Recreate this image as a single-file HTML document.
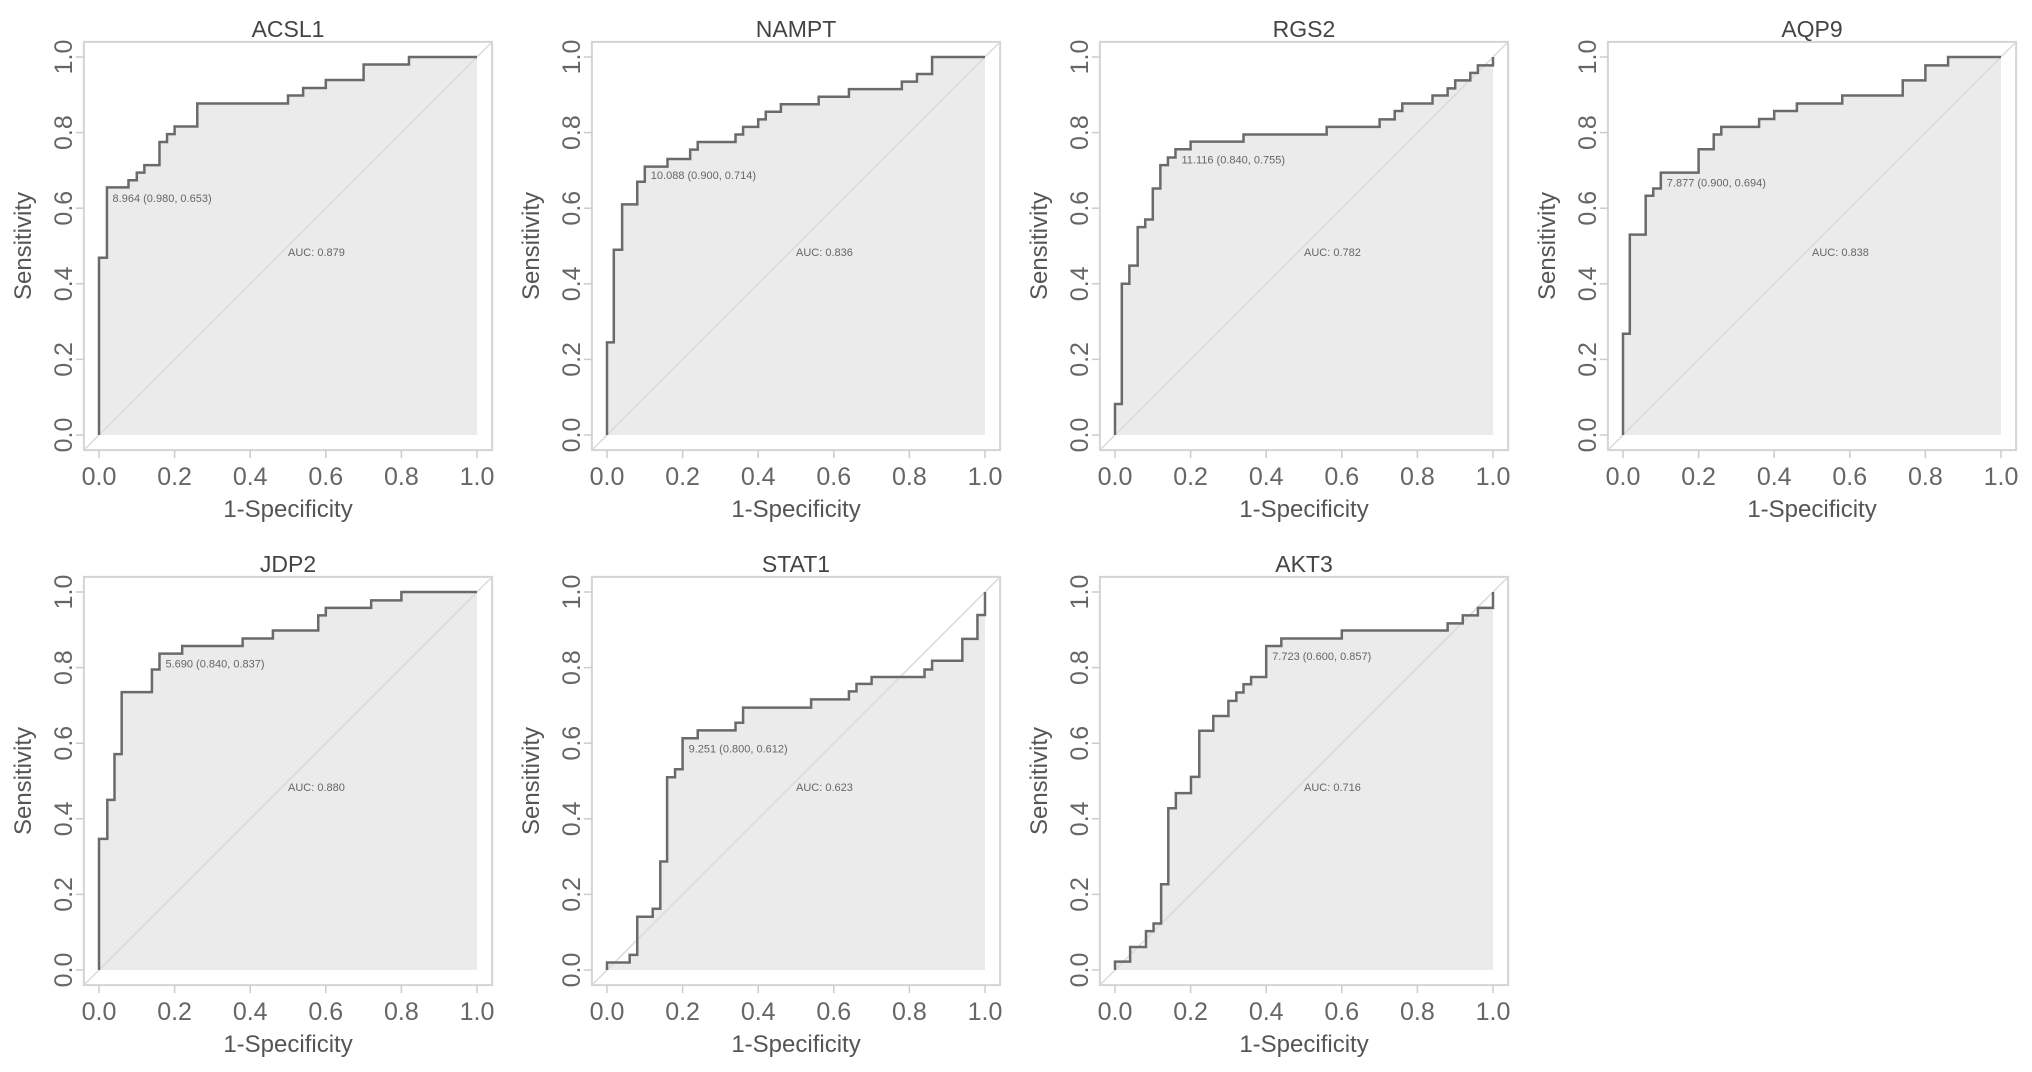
<!DOCTYPE html>
<html><head><meta charset="utf-8"><style>
html,body{margin:0;padding:0;background:#fff;}
svg{display:block;font-family:"Liberation Sans",Arial,sans-serif;}
</style></head><body>
<svg id="chart" width="2032" height="1072" viewBox="0 0 2032 1072"></svg>
<script>
const genes = ["ACSL1","NAMPT","RGS2","AQP9","JDP2","STAT1","AKT3"];
const aucs = ["0.879","0.836","0.782","0.838","0.880","0.623","0.716"];
const cutLabels = ["8.964 (0.980, 0.653)","10.088 (0.900, 0.714)","11.116 (0.840, 0.755)","7.877 (0.900, 0.694)","5.690 (0.840, 0.837)","9.251 (0.800, 0.612)","7.723 (0.600, 0.857)"];
const cutFpr = [0.02,0.10,0.16,0.10,0.16,0.20,0.40];
const cutTpr = [0.653,0.714,0.755,0.694,0.837,0.612,0.857];
const ticks = [0,0.2,0.4,0.6,0.8,1.0];
const tickLabels = ["0.0","0.2","0.4","0.6","0.8","1.0"];
const fprACSL1 = [0,0.021,0.078,0.10,0.12,0.16,0.18,0.20,0.26,0.50,0.54,0.60,0.70,0.82];
const tprACSL1 = [0.469,0.655,0.674,0.694,0.714,0.775,0.796,0.816,0.877,0.898,0.918,0.939,0.98,1.0];
const fprNAMPT = [0,0.018,0.04,0.08,0.10,0.16,0.22,0.24,0.34,0.36,0.40,0.42,0.46,0.56,0.64,0.78,0.82,0.86];
const tprNAMPT = [0.245,0.49,0.61,0.67,0.71,0.73,0.755,0.775,0.795,0.815,0.835,0.855,0.875,0.895,0.915,0.935,0.955,1.0];
const fprRGS2 = [0,0.018,0.038,0.06,0.08,0.10,0.12,0.14,0.16,0.20,0.34,0.56,0.70,0.74,0.76,0.84,0.88,0.90,0.94,0.96,1.0];
const tprRGS2 = [0.082,0.40,0.448,0.55,0.57,0.652,0.714,0.734,0.756,0.776,0.795,0.815,0.835,0.857,0.877,0.898,0.917,0.938,0.958,0.978,1.0];
const fprAQP9 = [0,0.018,0.06,0.08,0.10,0.20,0.24,0.26,0.36,0.40,0.46,0.58,0.74,0.80,0.86];
const tprAQP9 = [0.268,0.53,0.633,0.652,0.694,0.756,0.795,0.815,0.836,0.857,0.877,0.898,0.938,0.978,1.0];
const fprJDP2 = [0,0.022,0.041,0.06,0.14,0.16,0.22,0.38,0.46,0.58,0.60,0.72,0.80];
const tprJDP2 = [0.347,0.45,0.571,0.735,0.795,0.837,0.857,0.877,0.898,0.938,0.958,0.978,1.0];
const fprSTAT1 = [0,0.06,0.08,0.121,0.141,0.159,0.18,0.20,0.24,0.34,0.36,0.54,0.64,0.66,0.70,0.84,0.86,0.94,0.98,1.0];
const tprSTAT1 = [0.02,0.04,0.141,0.162,0.287,0.51,0.531,0.613,0.634,0.654,0.694,0.716,0.737,0.757,0.775,0.795,0.818,0.876,0.939,1.0];
const fprAKT3 = [0,0.04,0.082,0.102,0.122,0.141,0.161,0.201,0.223,0.26,0.30,0.321,0.34,0.36,0.40,0.44,0.60,0.88,0.92,0.96,1.0];
const tprAKT3 = [0.022,0.061,0.103,0.123,0.227,0.428,0.468,0.511,0.633,0.672,0.712,0.734,0.756,0.775,0.857,0.877,0.898,0.917,0.938,0.958,1.0];
const fprSets = [fprACSL1,fprNAMPT,fprRGS2,fprAQP9,fprJDP2,fprSTAT1,fprAKT3];
const tprSets = [tprACSL1,tprNAMPT,tprRGS2,tprAQP9,tprJDP2,tprSTAT1,tprAKT3];

const NS = "http://www.w3.org/2000/svg";
const svg = document.getElementById("chart");
function mk(tag, attrs, parent){
  const e = document.createElementNS(NS, tag);
  for (const k in attrs) e.setAttribute(k, attrs[k]);
  (parent||svg).appendChild(e);
  return e;
}
const W = 378, H = 378;
genes.forEach((g, i) => {
  const c = i % 4, r = Math.floor(i / 4);
  const X0 = 99 + 508 * c, Y0 = 435 + 535 * r;
  const sx = v => X0 + v * W;
  const sy = v => Y0 - v * H;
  const grp = mk("g", {});
  
  
  const fx = fprSets[i], ty = tprSets[i];
  let d = "M" + sx(0) + "," + sy(0);
  for (let k = 0; k < fx.length; k++) {
    d += " L" + sx(fx[k]) + "," + sy(k === 0 ? 0 : ty[k-1]);
    d += " L" + sx(fx[k]) + "," + sy(ty[k]);
  }
  d += " L" + sx(1) + "," + sy(ty[ty.length-1]) + " L" + sx(1) + "," + sy(1);
  const area = mk("path", {d: d + " L" + sx(1) + "," + sy(0) + " Z", fill: "#ebebeb", stroke: "none"}, grp);
  
  
  const box = mk("rect", {x: sx(-0.04), y: sy(1.04), width: W * 1.08, height: H * 1.08, fill: "none", stroke: "#d4d4d4", "stroke-width": 2}, grp);
  
  
  const diag = mk("line", {x1: sx(-0.04), y1: sy(-0.04), x2: sx(1.04), y2: sy(1.04), stroke: "#dadada", "stroke-width": 1.5}, grp);
  
  
  const line = mk("path", {d: d, fill: "none", stroke: "#6a6a6a", "stroke-width": 2.5}, grp);
  
  
  const title = mk("text", {x: sx(0.5), y: Y0 - H - 20, "text-anchor": "middle", "font-size": 23, fill: "#444"}, grp);
  title.textContent = g;
  
  
  ticks.forEach((t, k) => {
    const xt = mk("line", {x1: sx(t), y1: sy(-0.04), x2: sx(t), y2: sy(-0.04) + 8, stroke: "#ccc", "stroke-width": 1.5}, grp);
    
    
    const yt = mk("line", {x1: sx(-0.04), y1: sy(t), x2: sx(-0.04) - 8, y2: sy(t), stroke: "#ccc", "stroke-width": 1.5}, grp);
    
    
    const xl = mk("text", {x: sx(t), y: Y0 + 50, "text-anchor": "middle", "font-size": 25, fill: "#666"}, grp);
    xl.textContent = tickLabels[k];
    
    
    const yx = X0 - 27, yy = sy(t);
    const yl = mk("text", {x: yx, y: yy, "text-anchor": "middle", "font-size": 25, fill: "#666", transform: "rotate(-90 " + yx + " " + yy + ")"}, grp);
    yl.textContent = tickLabels[k];
    
    
  });
  const xa = mk("text", {x: sx(0.5), y: Y0 + 82, "text-anchor": "middle", "font-size": 24, fill: "#555"}, grp);
  xa.textContent = "1-Specificity";
  
  
  const ax = X0 - 68, ay = sy(0.5);
  const ya = mk("text", {x: ax, y: ay, "text-anchor": "middle", "font-size": 24, fill: "#555", transform: "rotate(-90 " + ax + " " + ay + ")"}, grp);
  ya.textContent = "Sensitivity";
  
  
  const ct = mk("text", {x: sx(cutFpr[i]) + 6, y: sy(cutTpr[i]) + 14, "font-size": 11, fill: "#666"}, grp);
  ct.textContent = cutLabels[i];
  
  
  const at = mk("text", {x: sx(0.5), y: sy(0.5) + 10, "font-size": 11, fill: "#666"}, grp);
  at.textContent = "AUC: " + aucs[i];
  
  
});
</script>
</body></html>
